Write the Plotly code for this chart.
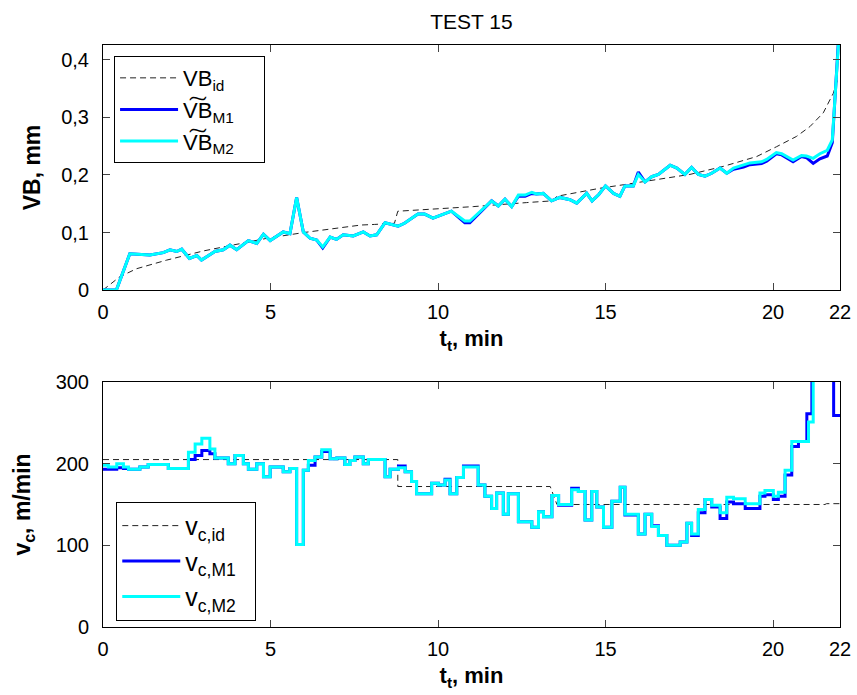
import plotly.graph_objects as go

# ---------------- Top panel: VB ----------------
t_vb = [0, 0.4, 0.8, 1.0, 1.4, 1.8, 2.0, 2.2, 2.35, 2.58, 2.8, 2.94, 3.34, 3.59, 3.79, 3.99,
        4.34, 4.59, 4.79, 4.99, 5.18, 5.38, 5.58, 5.78, 5.98, 6.18, 6.38, 6.56, 6.78, 6.97,
        7.17, 7.47, 7.77, 7.97, 8.17, 8.42, 8.81, 9.0, 9.4, 9.6, 9.85, 10.15, 10.4, 10.8,
        10.95, 11.6, 11.8, 12.0, 12.2, 12.4, 12.6, 12.8, 12.94, 13.14, 13.39, 13.64, 13.94,
        14.14, 14.44, 14.6, 14.8, 15.0, 15.24, 15.43, 15.58, 15.83, 15.98, 16.18, 16.38,
        16.58, 16.93, 17.13, 17.37, 17.57, 17.77, 17.97, 18.17, 18.42, 18.62, 18.82, 19.12,
        19.31, 19.66, 19.81, 20.1, 20.26, 20.6, 20.85, 21.0, 21.2, 21.4, 21.62, 21.77, 21.95, 22.0]
vb_m2 = [0, 0.0, 0.063, 0.062, 0.061, 0.065, 0.070, 0.067, 0.071, 0.055, 0.060, 0.052, 0.067,
         0.070, 0.078, 0.070, 0.086, 0.081, 0.097, 0.086, 0.094, 0.101, 0.098, 0.161, 0.101,
         0.090, 0.087, 0.075, 0.092, 0.088, 0.096, 0.094, 0.101, 0.094, 0.096, 0.117, 0.111,
         0.116, 0.132, 0.132, 0.125, 0.131, 0.137, 0.120, 0.120, 0.155, 0.146, 0.158, 0.145,
         0.165, 0.165, 0.170, 0.167, 0.168, 0.155, 0.161, 0.157, 0.151, 0.168, 0.155, 0.166,
         0.181, 0.168, 0.163, 0.181, 0.181, 0.201, 0.188, 0.197, 0.201, 0.217, 0.212, 0.201,
         0.213, 0.201, 0.198, 0.203, 0.212, 0.203, 0.212, 0.217, 0.221, 0.223, 0.227, 0.239,
         0.237, 0.226, 0.234, 0.233, 0.229, 0.237, 0.243, 0.261, 0.43, 0.47]
vb_m1 = [0, 0.0, 0.063, 0.062, 0.061, 0.065, 0.070, 0.067, 0.071, 0.055, 0.060, 0.052, 0.067,
         0.070, 0.078, 0.070, 0.086, 0.081, 0.097, 0.086, 0.094, 0.101, 0.098, 0.161, 0.101,
         0.090, 0.087, 0.073, 0.092, 0.088, 0.096, 0.094, 0.101, 0.094, 0.096, 0.117, 0.111,
         0.116, 0.132, 0.132, 0.125, 0.131, 0.137, 0.117, 0.117, 0.155, 0.146, 0.158, 0.145,
         0.163, 0.163, 0.168, 0.167, 0.168, 0.155, 0.161, 0.157, 0.151, 0.168, 0.155, 0.166,
         0.181, 0.168, 0.163, 0.181, 0.181, 0.205, 0.188, 0.197, 0.201, 0.217, 0.212, 0.201,
         0.213, 0.201, 0.198, 0.203, 0.212, 0.203, 0.210, 0.214, 0.218, 0.220, 0.224, 0.237,
         0.235, 0.223, 0.232, 0.230, 0.220, 0.228, 0.233, 0.256, 0.43, 0.47]

t_vb_id = [0, 0.5, 1.0, 1.9, 3.0, 4.0, 4.9, 6.0, 7.0, 7.7, 8.1, 8.7, 8.8, 11.05, 12.64, 13.4,
           13.55, 14.84, 15.53, 16.5, 17.52, 18.52, 19.51, 20.1, 20.7, 21.1, 21.5, 21.8, 21.95]
vb_id = [0, 0.023, 0.037, 0.052, 0.068, 0.080, 0.090, 0.100, 0.108, 0.113, 0.114, 0.116, 0.137,
         0.145, 0.152, 0.155, 0.163, 0.177, 0.183, 0.192, 0.201, 0.215, 0.232, 0.249, 0.267,
         0.284, 0.308, 0.342, 0.370]

# ---------------- Bottom panel: cutting speed (step lines) ----------------
t_vc_m2 = [0, 0.16, 0.41, 0.61, 0.76, 1.10, 1.35, 1.95, 2.55, 2.75, 2.95, 3.19, 3.34, 3.74, 3.94,
           4.19, 4.34, 4.59, 4.79, 4.99, 5.38, 5.58, 5.78, 5.98, 6.13, 6.33, 6.53, 6.78, 6.98,
           7.22, 7.37, 7.52, 7.77, 7.92, 8.42, 8.57, 8.82, 9.02, 9.21, 9.36, 9.81, 10.01, 10.21,
           10.36, 10.56, 10.76, 11.2, 11.4, 11.6, 11.75, 11.95, 12.1, 12.4, 12.8, 13.0, 13.15,
           13.4, 13.6, 13.99, 14.19, 14.39, 14.59, 14.74, 14.94, 15.19, 15.44, 15.58, 15.98,
           16.18, 16.38, 16.58, 16.83, 17.23, 17.43, 17.57, 17.77, 17.97, 18.17, 18.42, 18.62,
           18.82, 19.17, 19.61, 19.76, 20.01, 20.16, 20.36, 20.56, 21.06, 21.2, 22.0]
vc_m2 = [198, 196, 200, 196, 193, 196, 199, 194, 214, 224, 231, 218, 207, 200, 210,
         200, 193, 200, 184, 196, 190, 194, 101, 192, 204, 208, 217, 206, 207,
         199, 204, 208, 200, 205, 184, 193, 195, 190, 178, 163, 176, 174, 180,
         163, 183, 196, 174, 160, 145, 164, 138, 163, 129, 122, 141, 135,
         161, 150, 168, 166, 131, 166, 147, 122, 154, 171, 138, 114,
         138, 123, 112, 100, 104, 127, 114, 144, 156, 149, 140, 159,
         157, 151, 164, 167, 160, 165, 192, 227, 251, 330, 330]

t_vc_m1 = [0, 0.41, 0.61, 0.76, 1.10, 1.35, 1.95, 2.55, 2.75, 2.95, 3.19, 3.34, 3.74, 3.94,
           4.19, 4.34, 4.59, 4.79, 4.99, 5.38, 5.58, 5.78, 5.98, 6.13, 6.33, 6.53, 6.78, 6.98,
           7.22, 7.37, 7.52, 7.77, 7.92, 8.42, 8.57, 8.82, 9.02, 9.21, 9.36, 9.81, 10.01, 10.21,
           10.36, 10.56, 10.76, 11.2, 11.4, 11.6, 11.75, 11.95, 12.1, 12.4, 12.8, 13.0, 13.15,
           13.4, 13.6, 13.99, 14.19, 14.39, 14.59, 14.74, 14.94, 15.19, 15.44, 15.58, 15.98,
           16.18, 16.38, 16.58, 16.83, 17.23, 17.43, 17.57, 17.77, 17.97, 18.17, 18.42, 18.62,
           18.82, 19.17, 19.61, 19.76, 20.01, 20.16, 20.36, 20.56, 20.76, 21.01, 21.16, 21.81, 22.0]
vc_m1 = [193, 195, 194, 193, 196, 199, 194, 205, 210, 216, 212, 207, 200, 210,
         200, 193, 200, 184, 196, 190, 194, 101, 192, 198, 208, 215, 206, 207,
         199, 204, 208, 200, 205, 184, 193, 197, 190, 178, 163, 176, 174, 181,
         163, 183, 197, 174, 160, 145, 164, 138, 163, 129, 122, 141, 135,
         161, 149, 170, 166, 131, 166, 147, 122, 154, 171, 137, 114,
         138, 124, 112, 100, 104, 127, 112, 140, 156, 147, 133, 153,
         151, 145, 160, 162, 156, 160, 186, 221, 227, 261, 330, 259, 259]

t_vc_id = [0, 8.8, 8.8, 13.35, 13.55, 21.55, 21.6, 22.0]
vc_id = [205, 205, 172, 172, 150, 150, 151, 151]

x_ticks = [0, 5, 10, 15, 20, 22]
vb_ticks = [0, 0.1, 0.2, 0.3, 0.4]
vb_ticktext = ["0", "0,1", "0,2", "0,3", "0,4"]
vc_ticks = [0, 100, 200, 300]

FONT = "Liberation Sans, Arial, Helvetica, sans-serif"
BLUE = "#0000FF"
CYAN = "#00FFFF"
IDC = "#222222"
PAD = "\u00a0\u00a0\u00a0\u00a0"
PAD2 = "\u00a0\u00a0"

fig = go.Figure()

fig.add_trace(go.Scatter(x=t_vb_id, y=vb_id, mode="lines", name="VB<sub>id</sub>",
                         line=dict(color=IDC, width=1, dash="6px,4px"),
                         xaxis="x", yaxis="y", legend="legend"))
fig.add_trace(go.Scatter(x=t_vb, y=vb_m1, mode="lines", name="V\u0360B<sub>M1</sub>" + PAD,
                         line=dict(color=BLUE, width=3),
                         xaxis="x", yaxis="y", legend="legend"))
fig.add_trace(go.Scatter(x=t_vb, y=vb_m2, mode="lines", name="V\u0360B<sub>M2</sub>" + PAD,
                         line=dict(color=CYAN, width=3),
                         xaxis="x", yaxis="y", legend="legend"))

fig.add_trace(go.Scatter(x=t_vc_id, y=vc_id, mode="lines", name="v<sub>c,id</sub>" + PAD2,
                         line=dict(color=IDC, width=1, dash="6px,4px"),
                         xaxis="x2", yaxis="y2", legend="legend2"))
fig.add_trace(go.Scatter(x=t_vc_m1, y=vc_m1, mode="lines", name="v<sub>c,M1</sub>" + PAD2,
                         line=dict(color=BLUE, width=3, shape="hv"),
                         xaxis="x2", yaxis="y2", legend="legend2"))
fig.add_trace(go.Scatter(x=t_vc_m2, y=vc_m2, mode="lines", name="v<sub>c,M2</sub>" + PAD2,
                         line=dict(color=CYAN, width=3, shape="hv"),
                         xaxis="x2", yaxis="y2", legend="legend2"))

axis_common = dict(showline=True, linecolor="black", linewidth=1, mirror="ticks",
                   ticks="inside", ticklen=7, tickcolor="#444444", showgrid=False,
                   zeroline=False, tickfont=dict(family=FONT, size=20, color="black"),
                   automargin=False, ticklabeloverflow="allow")

legend_common = dict(bgcolor="white", bordercolor="black", borderwidth=1,
                     xanchor="left", yanchor="top", tracegroupgap=0,
                     itemwidth=58, itemclick=False)

fig.update_layout(
    width=857, height=695,
    margin=dict(l=103, r=17, t=45, b=68, autoexpand=False),
    paper_bgcolor="white", plot_bgcolor="white",
    font=dict(family=FONT, color="black"),
    title=dict(text="TEST 15", x=0.5, xref="paper", xanchor="center",
               y=1 - 22 / 695, yanchor="middle", font=dict(family=FONT, size=21)),
    xaxis=dict(axis_common, domain=[0, 1], range=[0, 22], tickvals=x_ticks, anchor="y",
               ticklabelstandoff=4,
               title=dict(text="<b>t<sub>t</sub>, min</b>", standoff=8,
                          font=dict(family=FONT, size=22))),
    yaxis=dict(axis_common, domain=[0.579, 1], range=[0, 0.426], tickvals=vb_ticks,
               ticktext=vb_ticktext, anchor="x", ticklabelstandoff=9,
               title=dict(text="<b>VB, mm</b>", standoff=14,
                          font=dict(family=FONT, size=23))),
    xaxis2=dict(axis_common, domain=[0, 1], range=[0, 22], tickvals=x_ticks, anchor="y2",
                ticklabelstandoff=4,
                title=dict(text="<b>t<sub>t</sub>, min</b>", standoff=8,
                           font=dict(family=FONT, size=22))),
    yaxis2=dict(axis_common, domain=[0, 0.421], range=[0, 300], tickvals=vc_ticks,
                anchor="x2", ticklabelstandoff=9,
                title=dict(text="<b>v<sub>c</sub>, m/min</b>", standoff=18,
                           font=dict(family=FONT, size=23))),
    legend=dict(legend_common, x=0.015, y=0.981, font=dict(family=FONT, size=22)),
    legend2=dict(legend_common, x=0.018, y=0.215, font=dict(family=FONT, size=25)),
    showlegend=True,
)
fig.update_yaxes(automargin=True)

fig.write_html("out.html", config={"displayModeBar": False},
               post_script="document.body.style.margin='0';")
